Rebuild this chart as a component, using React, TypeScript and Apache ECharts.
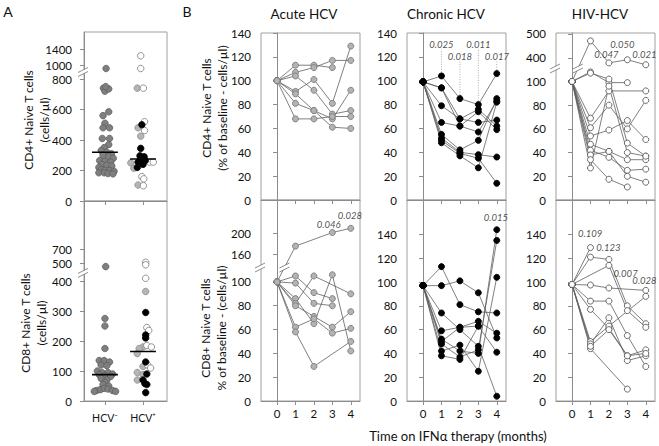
import React, { useEffect, useRef } from "react";
import * as echarts from "echarts";

// ---------------- DATA ----------------
const MONTHS = [0, 1, 2, 3, 4];
const GROUPS = ["HCV⁻", "HCV⁺"];

// Panel A: [jittered group position (1 = HCV-, 2 = HCV+), cells/µl]
const CD4_HCVNEG: [number, number][] = [
  [1.03, 950], [0.96, 740], [1.0, 720], [1.1, 735], [1.02, 750],
  [1.1, 585], [0.95, 560], [1.0, 510], [0.95, 480], [1.12, 480],
  [0.93, 410], [1.12, 410], [1.1, 370], [0.98, 350], [0.9, 330],
  [1.05, 320], [1.17, 310], [0.95, 300], [1.1, 290], [1.22, 280],
  [0.86, 265], [1.0, 260], [1.15, 255], [0.92, 240], [1.05, 235],
  [1.18, 230], [0.84, 220], [0.9, 205], [1.0, 200], [1.12, 200],
  [1.24, 195], [0.84, 185], [0.98, 185], [1.08, 180], [1.21, 178],
];
const CD4_HCVPOS_OPEN: [number, number][] = [
  [1.94, 1230], [1.94, 950], [2.01, 740], [2.04, 520], [2.04, 462],
  [2.17, 255], [2.27, 255], [1.97, 160], [2.02, 145], [2.01, 100],
];
const CD4_HCVPOS_GRAY: [number, number][] = [
  [1.85, 740], [1.87, 480], [1.94, 425], [1.68, 250], [1.76, 215], [1.87, 105],
];
const CD4_HCVPOS_BLACK: [number, number][] = [
  [1.97, 500], [1.94, 345], [1.92, 296], [2.03, 290], [1.95, 270],
  [2.06, 265], [1.87, 256], [2.0, 240], [1.85, 220],
];
const CD8_HCVNEG: [number, number][] = [
  [1.02, 480], [1.0, 275], [1.0, 250], [1.0, 175],
  [0.85, 135], [0.98, 135], [1.12, 130], [0.9, 120], [1.05, 118],
  [0.8, 100], [0.92, 95], [1.08, 95], [1.2, 90], [0.85, 88], [1.0, 85], [1.15, 82],
  [0.9, 75], [1.05, 70], [1.0, 62], [0.95, 55], [1.1, 50],
  [0.78, 35], [0.88, 38], [0.98, 42], [1.08, 40], [1.2, 35], [1.28, 32], [0.72, 32],
];
const CD8_HCVPOS_OPEN: [number, number][] = [
  [2.07, 510], [2.07, 490], [2.07, 415], [2.1, 245], [2.15, 235],
  [2.1, 185], [2.22, 180], [2.12, 120], [2.2, 110],
];
const CD8_HCVPOS_GRAY: [number, number][] = [
  [2.07, 365], [2.0, 180], [1.9, 175], [1.85, 158], [2.0, 115],
  [1.85, 95], [2.0, 88], [1.85, 70],
];
const CD8_HCVPOS_BLACK: [number, number][] = [
  [2.07, 295], [2.07, 220], [2.07, 210], [2.07, 130], [2.1, 90],
  [2.0, 70], [2.05, 58], [2.1, 55], [2.07, 28],
];
const MEDIAN_CD4 = [320, 275];
const MEDIAN_CD8 = [88, 165];

const CD4_TICKS_A = [0, 200, 400, 600, 800, 1000, 1400];
const CD8_TICKS_A = [0, 100, 200, 300, 400, 500, 700];
const PCT_TICKS = [0, 20, 40, 60, 80, 100, 120, 140];
const ACUTE_CD8_TICKS = [0, 20, 40, 60, 80, 100, 160, 200];
const HIV_CD4_TICKS = [0, 20, 40, 60, 80, 100, 400, 500];

// Panel B: % of baseline per subject at months 0..4 (null = missing)
type Row = (number | null)[];
const ACUTE_CD4: Row[] = [
  [100, 113, 113, 111, null],
  [100, 107, 111, 117, 117],
  [100, 104, 92, 72, 75],
  [100, 91, 101, 81, 129],
  [100, 89, 75, 68, 92],
  [100, 81, 75, 61, 60],
  [100, 68, 68, 70, 70],
];
const ACUTE_CD8: Row[] = [
  [100, 175, null, 201, 209],
  [100, 105, 91, 86, null],
  [100, 99, 82, 80, null],
  [100, 86, 65, 106, 42],
  [100, 82, 105, null, 90],
  [100, 80, 71, 62, 75],
  [100, 62, 69, 57, 61],
  [100, 58, 29, null, 50],
];
const CHRONIC_CD4: Row[] = [
  [99, 104, 85, 80, 106],
  [99, 94, 68, 76, 62],
  [99, 94, 62, 74, 59],
  [99, 79, 68, 65, 67],
  [99, 65, 62, 57, 83],
  [99, 55, 42, 50, 85],
  [99, 52, 40, 38, 36],
  [99, 50, 39, 35, 14],
  [99, 48, 37, 27, 82],
];
const CHRONIC_CD8: Row[] = [
  [97, 113, 81, 75, 74],
  [97, 97, 101, 91, 53],
  [97, 74, 60, 46, 4],
  [97, 59, 62, 63, 41],
  [97, 52, 42, 40, 144],
  [97, 50, 62, 67, 57],
  [97, 48, 37, 43, 135],
  [97, 42, 47, 25, 104],
  [97, 38, 35, 63, null],
];
const HIV_CD4: Row[] = [
  [100, 471, 379, 392, 371],
  [100, 108, 99, 99, null],
  [100, 107, 102, 48, 37],
  [100, 69, 92, null, 92],
  [100, 61, 80, 60, 84],
  [100, 54, 59, 67, 51],
  [100, 47, 41, 34, 34],
  [100, 42, 36, 25, 26],
  [100, 38, 41, 20, 15],
  [100, 34, 17.5, 11, null],
  [100, 27, 96, 40, 37],
];
const HIV_CD8: Row[] = [
  [98, 129, null, null, null],
  [98, 121, 119, 80, 65],
  [98, null, 114, 76, 62],
  [98, 97.5, 95, null, 93],
  [98, 84, 84, 55, 29],
  [98, 77, 61, 38, 43],
  [98, 50, 63, null, 88],
  [98, 48, 70, 34, 38],
  [98, 44, null, 10, null],
  [98, 46, 60, 38, 40],
];

// p-value annotations: [month position, value level, text]
const P_ACUTE_CD8: [number, number, string][] = [[2.8, 217, "0.046"], [3.95, 234, "0.028"]];
const P_CHRONIC_CD4: [number, number, string][] = [[1, 130, "0.025"], [2, 120, "0.018"], [3, 130, "0.011"], [4, 120, "0.017"]];
const CHRONIC_CD4_LEADERS: [number, number, number][] = [[1, 107, 126], [2, 88, 116], [3, 83, 126], [4, 109, 116]];
const P_CHRONIC_CD8: [number, number, string][] = [[3.95, 154, "0.015"]];
const P_HIV_CD4: [number, number, string][] = [[1.86, 412, "0.047"], [2.73, 454, "0.050"], [3.93, 412, "0.021"]];
const P_HIV_CD8: [number, number, string][] = [[0.98, 141, "0.109"], [1.97, 129, "0.123"], [2.9, 107.5, "0.007"], [3.93, 101.7, "0.028"]];

// ---------------- SCALES (broken axes) ----------------
type Knots = [number, number][];
const K_A_CD4: Knots = [[0, 0], [800, 122], [1000, 136], [1400, 152], [1830, 169]];
const K_A_CD8: Knots = [[0, 0], [400, 120], [500, 138], [700, 152], [1400, 200]];
const K_AC_CD8: Knots = [[0, 0], [110, 131], [140, 136.5], [263, 201]];
const K_HI_CD4: Knots = [[0, 0], [110, 131.2], [360, 133.4], [500, 167], [504, 168]];

function piece(k: Knots) {
  return (v: number) => {
    for (let i = 1; i < k.length; i++) {
      if (v <= k[i][0] || i === k.length - 1) {
        const [x0, y0] = k[i - 1];
        const [x1, y1] = k[i];
        return y0 + ((v - x0) * (y1 - y0)) / (x1 - x0);
      }
    }
    return v;
  };
}
const ident = (v: number) => v;

const FONT = "Lato, 'Open Sans', 'DejaVu Sans', sans-serif";
const AXC = "#8c8c8c";
const LINEC = "#5f5f5f";

const GRIDS = [
  { left: 84, top: 32, width: 83, height: 169 }, // 0 A CD4
  { left: 84, top: 201, width: 83, height: 200 }, // 1 A CD8
  { left: 261, top: 33, width: 99, height: 167 }, // 2 acute CD4
  { left: 261, top: 200, width: 99, height: 201 }, // 3 acute CD8
  { left: 407, top: 33, width: 99, height: 167 }, // 4 chronic CD4
  { left: 407, top: 200, width: 99, height: 201 }, // 5 chronic CD8
  { left: 556, top: 33, width: 99, height: 167 }, // 6 HIV CD4
  { left: 556, top: 200, width: 99, height: 201 }, // 7 HIV CD8
];

const fA4 = piece(K_A_CD4);
const fA8 = piece(K_A_CD8);
const fAc8 = piece(K_AC_CD8);
const fHi4 = piece(K_HI_CD4);

const YCFG: { f: (v: number) => number; max: number; ticks: number[] }[] = [
  { f: fA4, max: 169, ticks: CD4_TICKS_A },
  { f: fA8, max: 200, ticks: CD8_TICKS_A },
  { f: ident, max: 140, ticks: PCT_TICKS },
  { f: fAc8, max: 201, ticks: ACUTE_CD8_TICKS },
  { f: ident, max: 140, ticks: PCT_TICKS },
  { f: ident, max: 169, ticks: PCT_TICKS },
  { f: fHi4, max: 168, ticks: HIV_CD4_TICKS },
  { f: ident, max: 169, ticks: PCT_TICKS },
];

const labelStyle = { fontFamily: FONT, fontSize: 11, color: "#111" };

function buildOption() {
  const xAxis: any[] = [];
  const yAxis: any[] = [];
  GRIDS.forEach((_, i) => {
    const isA = i < 2;
    const bottomRow = i === 1 || i === 3 || i === 5 || i === 7;
    const tickVals = isA ? [1, 2] : MONTHS;
    xAxis.push({
      type: "value",
      gridIndex: i,
      min: isA ? 0.45 : -0.87,
      max: isA ? 2.63 : 4.5,
      axisLine: { show: true, lineStyle: { color: AXC, width: 1 } },
      axisTick: { show: true, customValues: tickVals, length: 4, lineStyle: { color: AXC } },
      axisLabel: {
        show: bottomRow,
        customValues: tickVals,
        formatter: (v: number) => (isA ? GROUPS[Math.round(v) - 1] : String(Math.round(v))),
        margin: isA ? 11 : 6,
        ...labelStyle,
        fontSize: isA ? 10.5 : 11.5,
      },
      splitLine: { show: false },
    });
    const cfg = YCFG[i];
    const disp = cfg.ticks.map((t) => cfg.f(t));
    yAxis.push({
      type: "value",
      gridIndex: i,
      min: 0,
      max: cfg.max,
      axisLine: { show: true, lineStyle: { color: AXC, width: 1 } },
      axisTick: { show: true, customValues: disp, length: 4, lineStyle: { color: AXC } },
      axisLabel: {
        customValues: disp,
        formatter: (v: number) => {
          const j = disp.findIndex((d) => Math.abs(d - v) < 1e-6);
          return j >= 0 ? String(cfg.ticks[j]) : "";
        },
        margin: isA ? 12 : 10,
        ...labelStyle,
        fontSize: 11.5,
      },
      splitLine: { show: false },
    });
  });

  const series: any[] = [];
  const pt = (idx: number, pts: [number, number][], color: string, border: string) => {
    const f = YCFG[idx].f;
    series.push({
      type: "scatter",
      xAxisIndex: idx,
      yAxisIndex: idx,
      data: pts.map(([x, v]) => [x, f(v)]),
      symbol: "circle",
      symbolSize: 6.5,
      itemStyle: { color, borderColor: border, borderWidth: 0.8, opacity: 1 },
      z: 3,
      silent: true,
    });
  };
  pt(0, CD4_HCVNEG, "#7f7f7f", "#5e5e5e");
  pt(0, CD4_HCVPOS_GRAY, "#b5b5b5", "#8a8a8a");
  pt(0, CD4_HCVPOS_OPEN, "#ffffff", "#7a7a7a");
  pt(0, CD4_HCVPOS_BLACK, "#000000", "#000000");
  pt(1, CD8_HCVNEG, "#7f7f7f", "#5e5e5e");
  pt(1, CD8_HCVPOS_GRAY, "#b5b5b5", "#8a8a8a");
  pt(1, CD8_HCVPOS_OPEN, "#ffffff", "#7a7a7a");
  pt(1, CD8_HCVPOS_BLACK, "#000000", "#000000");
  const med = (idx: number, meds: number[]) => {
    const f = YCFG[idx].f;
    meds.forEach((m, g) => {
      series.push({
        type: "line",
        xAxisIndex: idx,
        yAxisIndex: idx,
        data: [[g + 1 - 0.34, f(m)], [g + 1 + 0.34, f(m)]],
        symbol: "none",
        lineStyle: { color: "#000", width: 1.6 },
        z: 4,
        silent: true,
      });
    });
  };
  med(0, MEDIAN_CD4);
  med(1, MEDIAN_CD8);

  const panel = (idx: number, rows: Row[], color: string, border: string) => {
    const f = YCFG[idx].f;
    const all: number[][] = [];
    rows.forEach((r) => {
      const d: number[][] = [];
      r.forEach((v, i) => {
        if (v != null) d.push([MONTHS[i], f(v)]);
      });
      all.push(...d);
      series.push({
        type: "line",
        xAxisIndex: idx,
        yAxisIndex: idx,
        data: d,
        symbol: "none",
        lineStyle: { color: LINEC, width: 0.8 },
        z: 2,
        silent: true,
      });
    });
    series.push({
      type: "scatter",
      xAxisIndex: idx,
      yAxisIndex: idx,
      data: all,
      symbol: "circle",
      symbolSize: 6,
      itemStyle: { color, borderColor: border, borderWidth: 0.9, opacity: 1 },
      z: 3,
      silent: true,
    });
  };
  panel(2, ACUTE_CD4, "#b3b3b3", "#7a7a7a");
  panel(3, ACUTE_CD8, "#b3b3b3", "#7a7a7a");
  panel(4, CHRONIC_CD4, "#000", "#000");
  panel(5, CHRONIC_CD8, "#000", "#000");
  panel(6, HIV_CD4, "#fff", "#5a5a5a");
  panel(7, HIV_CD8, "#fff", "#5a5a5a");

  CHRONIC_CD4_LEADERS.forEach(([m, a, b]) => {
    series.push({
      type: "line",
      xAxisIndex: 4,
      yAxisIndex: 4,
      data: [[m, a], [m, b]],
      symbol: "none",
      lineStyle: { color: "#999", width: 0.8, type: [1, 1.5] },
      z: 1,
      silent: true,
    });
  });

  const pv = (idx: number, ps: [number, number, string][]) => {
    const f = YCFG[idx].f;
    series.push({
      type: "scatter",
      xAxisIndex: idx,
      yAxisIndex: idx,
      symbolSize: 1,
      itemStyle: { color: "rgba(0,0,0,0)" },
      data: ps.map(([x, v, t]) => ({ value: [x, f(v)], label: { formatter: t } })),
      label: {
        show: true,
        position: "inside",
        fontFamily: FONT,
        fontSize: 9.5,
        fontStyle: "italic",
        color: "#222",
      },
      z: 5,
      silent: true,
    });
  };
  pv(3, P_ACUTE_CD8);
  pv(4, P_CHRONIC_CD4);
  pv(5, P_CHRONIC_CD8);
  pv(6, P_HIV_CD4);
  pv(7, P_HIV_CD8);

  return {
    animation: false,
    backgroundColor: "#ffffff",
    grid: GRIDS.map((g) => ({
      ...g,
      show: true,
      borderColor: "#a0a0a0",
      borderWidth: 1,
      backgroundColor: "rgba(0,0,0,0)",
    })),
    xAxis,
    yAxis,
    series,
  };
}

function staticGraphics() {
  const t = (text: string, x: number, y: number, size: number, rot = 0, extra: any = {}) => ({
    type: "text",
    x,
    y,
    rotation: rot,
    style: {
      text,
      fontFamily: FONT,
      fontSize: size,
      fill: "#111",
      align: "center",
      verticalAlign: "middle",
      lineHeight: size + 4,
      ...extra,
    },
    z: 10,
  });
  return [
    t("A", 8, 11, 14),
    t("B", 187, 11, 14),
    t("Acute HCV", 304, 14, 13.5),
    t("Chronic HCV", 446, 14, 13.5),
    t("HIV-HCV", 600, 14, 13.5),
    t("CD4+ Naive T cells\n(cells/µl)", 36, 120, 12, Math.PI / 2),
    t("CD8+ Naive T cells\n(cells/µl)", 33, 323, 12, Math.PI / 2),
    t("CD4+ Naive T cells\n(% of baseline - cells/µl)", 214, 108, 12, Math.PI / 2),
    t("CD8+ Naive T cells\n% of baseline - (cells/µl)", 213, 328, 12, Math.PI / 2),
    t("Time on IFNα therapy (months)", 458, 436, 13),
  ];
}

function breakMark(cx: number, cy: number) {
  const c = "#707070";
  return [
    {
      type: "polygon",
      shape: { points: [[cx - 5, cy + 0.5], [cx + 5, cy - 4.5], [cx + 5, cy - 0.5], [cx - 5, cy + 4.5]] },
      style: { fill: "#fff" },
      z: 11,
    },
    { type: "line", shape: { x1: cx - 5, y1: cy + 0.5, x2: cx + 5, y2: cy - 4.5 }, style: { stroke: c, lineWidth: 0.8 }, z: 12 },
    { type: "line", shape: { x1: cx - 5, y1: cy + 4.5, x2: cx + 5, y2: cy - 0.5 }, style: { stroke: c, lineWidth: 0.8 }, z: 12 },
  ];
}

export default function App() {
  const ref = useRef<HTMLDivElement>(null);
  useEffect(() => {
    if (!ref.current) return;
    const chart = echarts.init(ref.current, undefined, { renderer: "svg" });
    chart.setOption(buildOption() as any);
    const g: any[] = [...staticGraphics()];
    // axis breaks: [grid, x-min, display level]
    const axisBreaks: [number, number, number][] = [
      [0, 0.45, fA4(900)],
      [1, 0.45, fA8(445)],
      [3, -0.87, 133.5],
      [6, -0.87, 132.3],
    ];
    axisBreaks.forEach(([gi, xm, d]) => {
      const p = chart.convertToPixel({ gridIndex: gi } as any, [xm, d]) as number[];
      g.push(...breakMark(p[0] - 1, p[1]));
    });
    // line breaks on subject lines crossing the axis break
    const lineBreaks: [number, number, number, number][] = [
      [3, ACUTE_CD8[0][0] as number, ACUTE_CD8[0][1] as number, 133.5],
      [6, HIV_CD4[0][0] as number, HIV_CD4[0][1] as number, 132.3],
    ];
    lineBreaks.forEach(([gi, v0, v1, d]) => {
      const f = YCFG[gi].f;
      const p0 = chart.convertToPixel({ gridIndex: gi } as any, [0, f(v0)]) as number[];
      const p1 = chart.convertToPixel({ gridIndex: gi } as any, [1, f(v1)]) as number[];
      const pb = chart.convertToPixel({ gridIndex: gi } as any, [0, d]) as number[];
      const tt = (pb[1] - p0[1]) / (p1[1] - p0[1]);
      const x = p0[0] + tt * (p1[0] - p0[0]);
      g.push(...breakMark(x, pb[1]));
    });
    chart.setOption({ graphic: g });
    return () => chart.dispose();
  }, []);
  return <div ref={ref} style={{ width: 659, height: 446, position: "absolute", left: 0, top: 0 }} />;
}
